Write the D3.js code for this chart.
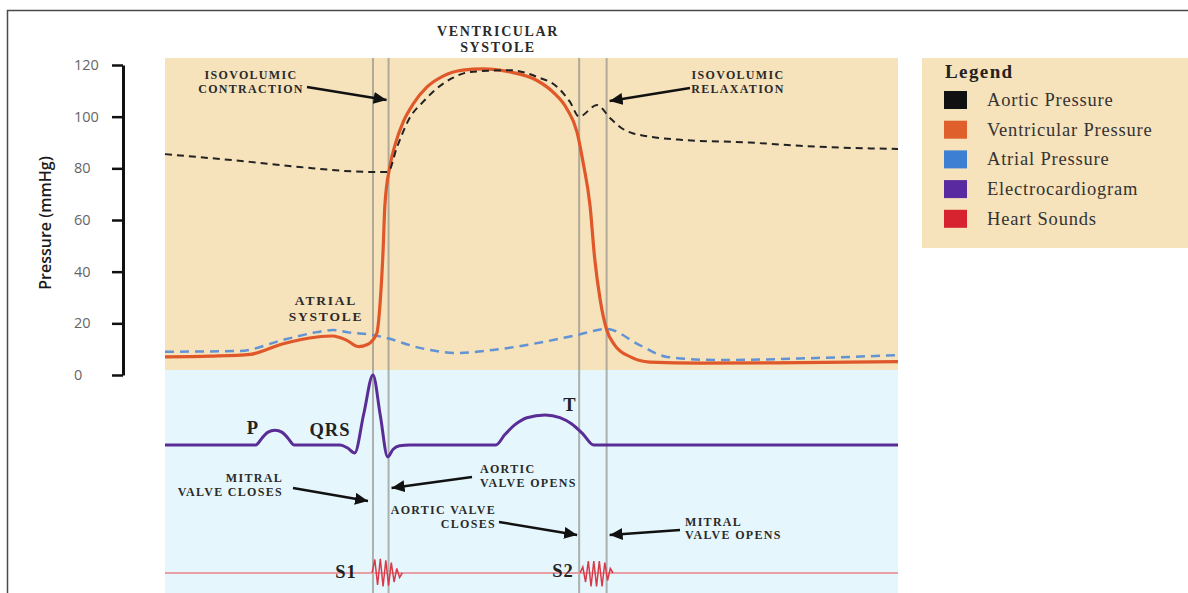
<!DOCTYPE html>
<html>
<head>
<meta charset="utf-8">
<script src="https://cdn.jsdelivr.net/npm/d3@7"></script>
<style>
  html, body { margin: 0; padding: 0; background: #fff; }
  svg { display: block; }
</style>
</head>
<body>
<svg id="chart" width="1188" height="593"></svg>
<script>
// ---------------- DATA (time in ms over one cardiac cycle) ----------------
const yTicks = [0, 20, 40, 60, 80, 100, 120];

// [time ms, pressure mmHg]
const aorticPressure = [
  [0, 85.5], [93, 82.5], [147, 80.5], [227, 78.6], [243.4, 78.6], [253, 88],
  [267, 99.5], [281.6, 105.7], [297, 111], [314, 115], [333, 117.3], [376.5, 118],
  [406, 115.4], [428, 111.5], [442, 105.7], [452, 100], [471.5, 104.5],
  [485.7, 99.5], [496.6, 96], [511, 93.5], [565, 91], [638, 90], [693, 88.7], [800, 87.5]
];
const ventricularPressure = [
  [0, 7], [50, 7.3], [93, 8], [128, 12], [166, 14.7], [183, 15.1], [198, 13.5],
  [211, 11], [221, 11.8], [231, 16], [235, 29], [238, 48], [240, 65.8],
  [245.6, 81], [251, 89], [260, 98], [271, 105], [286, 111.5], [303.5, 115.7],
  [325, 118], [347, 118.5], [376.5, 117.3], [406, 114], [423.5, 109.5],
  [438.7, 103], [449.7, 94], [456.2, 82.5], [463.8, 65.8], [469, 45], [475, 29],
  [482, 17.5], [491, 11.5], [508, 7], [529, 5], [584, 4.6], [693, 4.8], [800, 5.2]
];
const atrialPressure = [
  [0, 9], [82, 9.3], [128, 13.5], [166, 16.6], [183, 17.4], [202, 16.4],
  [227, 15.5], [242, 14.3], [278, 10.5], [319, 8.5], [358, 9.7], [413, 12.8],
  [450, 15.5], [482, 17.8], [518, 11.6], [548, 7], [603, 5.8], [712, 6.6],
  [800, 7.7]
];
// [time ms, ECG amplitude (R peak = 1)]
const ecg = [
  [0, 0], [99, 0], [106, 0.1], [112, 0.18], [120, 0.21], [128, 0.18], [134, 0.1],
  [141, 0], [191, 0], [199, -0.04], [207, -0.114], [217, 0.45], [227, 1.0],
  [235, 0.42], [243, -0.17], [249, -0.06], [256, -0.01], [267, 0], [361, 0],
  [371, 0.15], [382, 0.29], [395, 0.39], [415, 0.43], [431, 0.39], [444, 0.3],
  [456, 0.16], [468, 0], [800, 0]
];
// heart sounds [time ms, amplitude]
const heartBaseline = [[0, 0], [800, 0]];
const soundS1 = [
  [226, 0], [229, 0.9], [232, -0.8], [235, 0.95], [238, -0.9], [241, 0.85],
  [244, -0.85], [247, 0.7], [250, -0.6], [253, 0.3], [256, -0.3], [259, 0]
];
const soundS2 = [
  [453, 0], [456, 0.4], [459, -0.6], [462, 0.8], [465, -0.9], [468, 0.8],
  [471, -0.9], [474, 0.8], [477, -0.9], [480, 0.7], [483, -0.5], [486, 0.3], [489, 0]
];
// valve events: mitral closes, aortic opens, aortic closes, mitral opens
const valveEvents = [227, 244, 452, 482];

const legendLabels = ["Aortic Pressure", "Ventricular Pressure", "Atrial Pressure", "Electrocardiogram", "Heart Sounds"];
const legendColors = ["#111111", "#e0602c", "#3d7fd2", "#5a2aa0", "#d6232f"];

// ---------------- DRAWING ----------------
const svg = d3.select("#chart");
const serif = "'Liberation Serif', 'Times New Roman', serif";

const x = d3.scaleLinear().domain([0, 800]).range([165, 898]);
const yP = d3.scaleLinear().domain([0, 120]).range([375, 65]);
const yE = d3.scaleLinear().domain([0, 1]).range([445, 375]);
const yS = d3.scaleLinear().domain([-1, 1]).range([588, 558]);

// frame
svg.append("path").attr("d", "M7.5,593 V10.5 H1188")
  .attr("fill", "none").attr("stroke", "#4a4a4a").attr("stroke-width", 1.5);

// panels
svg.append("rect").attr("x", x(0)).attr("y", 58).attr("width", x(800) - x(0)).attr("height", 312)
  .attr("fill", "#f6e2bb");
svg.append("rect").attr("x", x(0)).attr("y", 370).attr("width", x(800) - x(0)).attr("height", 223)
  .attr("fill", "#e5f6fc");

// valve event lines
svg.append("g").selectAll("line").data(valveEvents).join("line")
  .attr("x1", d => x(d)).attr("x2", d => x(d)).attr("y1", 58).attr("y2", 593)
  .attr("stroke", "#8c8c86").attr("stroke-opacity", 0.65).attr("stroke-width", 2);

// y axis
const axis = d3.axisLeft(yP).tickValues(yTicks).tickSize(11).tickSizeOuter(0);
const gAx = svg.append("g").attr("transform", "translate(123,0)").call(axis);
gAx.select(".domain").attr("stroke", "#111").attr("stroke-width", 3);
gAx.selectAll(".tick line").attr("stroke", "#111").attr("stroke-width", 2.5);
gAx.selectAll(".tick text").attr("x", -49).attr("text-anchor", "start")
  .attr("font-family", "'Open Sans', sans-serif").attr("font-size", 14.5).attr("fill", "#666");

svg.append("text").attr("transform", "translate(51,223) rotate(-90)")
  .attr("text-anchor", "middle").attr("font-family", "'Open Sans', sans-serif")
  .attr("font-size", 16).attr("font-weight", 600).attr("fill", "#1a1a1a")
  .text("Pressure (mmHg)");

const lineGen = (ys, curve) => d3.line().x(d => x(d[0])).y(d => ys(d[1])).curve(curve);

// atrial
svg.append("path").datum(atrialPressure)
  .attr("d", lineGen(yP, d3.curveMonotoneX))
  .attr("fill", "none").attr("stroke", "#6293d4").attr("stroke-width", 2.5)
  .attr("stroke-dasharray", "9,6");
// ventricular
svg.append("path").datum(ventricularPressure)
  .attr("d", lineGen(yP, d3.curveMonotoneX))
  .attr("fill", "none").attr("stroke", "#e0572a").attr("stroke-width", 3.2);
// aortic
svg.append("path").datum(aorticPressure)
  .attr("d", lineGen(yP, d3.curveMonotoneX))
  .attr("fill", "none").attr("stroke", "#222").attr("stroke-width", 2)
  .attr("stroke-dasharray", "7,5");
// ECG
svg.append("path").datum(ecg)
  .attr("d", lineGen(yE, d3.curveMonotoneX))
  .attr("fill", "none").attr("stroke", "#5a2d96").attr("stroke-width", 3)
  .attr("stroke-linejoin", "round");
// heart sounds
svg.append("path").datum(heartBaseline)
  .attr("d", lineGen(yS, d3.curveLinear))
  .attr("fill", "none").attr("stroke", "#e8a0a6").attr("stroke-width", 2);
[soundS1, soundS2].forEach(s => {
  svg.append("path").datum(s)
    .attr("d", lineGen(yS, d3.curveLinear))
    .attr("fill", "none").attr("stroke", "#d83a48").attr("stroke-width", 1.5);
});

// arrow marker
svg.append("defs").append("marker").attr("id", "ah")
  .attr("markerUnits", "userSpaceOnUse").attr("markerWidth", 14).attr("markerHeight", 12)
  .attr("refX", 13).attr("refY", 6).attr("orient", "auto")
  .append("path").attr("d", "M0,0 L13,6 L0,12 Z").attr("fill", "#111");

// annotations
const notes = [
  { lines: ["VENTRICULAR", "SYSTOLE"], x: 498, y: 36, anchor: "middle", fs: 14, ls: 1.6, gap: 16 },
  { lines: ["ISOVOLUMIC", "CONTRACTION"], x: 251, y: 79, anchor: "middle", fs: 12, ls: 1.3, gap: 14,
    arrow: [307, 87, x(valveEvents[1]) - 2, 100] },
  { lines: ["ISOVOLUMIC", "RELAXATION"], x: 738, y: 79, anchor: "middle", fs: 12, ls: 1.3, gap: 14,
    arrow: [690, 88, x(valveEvents[3]) + 3, 101] },
  { lines: ["ATRIAL", "SYSTOLE"], x: 326, y: 305, anchor: "middle", fs: 13.5, ls: 1.8, gap: 16 },
  { lines: ["MITRAL", "VALVE CLOSES"], x: 283, y: 482, anchor: "end", fs: 12, ls: 1.3, gap: 14,
    arrow: [293, 488, x(valveEvents[0]) - 5, 501] },
  { lines: ["AORTIC", "VALVE OPENS"], x: 480, y: 473, anchor: "start", fs: 12, ls: 1.3, gap: 14,
    arrow: [472, 477, x(valveEvents[1]) + 3, 488] },
  { lines: ["AORTIC VALVE", "CLOSES"], x: 496, y: 514, anchor: "end", fs: 12, ls: 1.3, gap: 14,
    arrow: [499, 522, x(valveEvents[2]) - 2, 535] },
  { lines: ["MITRAL", "VALVE OPENS"], x: 685, y: 526, anchor: "start", fs: 12, ls: 1.3, gap: 13,
    arrow: [680, 530, x(valveEvents[3]) + 3, 535] }
];
notes.forEach(n => {
  const t = svg.append("text").attr("text-anchor", n.anchor)
    .attr("font-family", serif).attr("font-weight", "bold").attr("font-size", n.fs)
    .attr("fill", "#2a2a2a").attr("letter-spacing", n.ls);
  n.lines.forEach((l, i) => t.append("tspan").attr("x", n.x).attr("y", n.y + i * n.gap).text(l));
  if (n.arrow) {
    svg.append("line").attr("x1", n.arrow[0]).attr("y1", n.arrow[1])
      .attr("x2", n.arrow[2]).attr("y2", n.arrow[3])
      .attr("stroke", "#111").attr("stroke-width", 2.5).attr("marker-end", "url(#ah)");
  }
});

// wave labels
const waveLabels = [
  { t: "P", x: 253, y: 434 }, { t: "QRS", x: 330, y: 436 }, { t: "T", x: 570, y: 411 },
  { t: "S1", x: 346, y: 578 }, { t: "S2", x: 563, y: 577 }
];
svg.append("g").selectAll("text").data(waveLabels).join("text")
  .attr("x", d => d.x).attr("y", d => d.y).attr("text-anchor", "middle")
  .attr("font-family", serif).attr("font-weight", "bold").attr("font-size", 18.5)
  .attr("letter-spacing", 1).attr("fill", "#222").text(d => d.t);

// legend
svg.append("rect").attr("x", 922).attr("y", 58).attr("width", 266).attr("height", 190)
  .attr("fill", "#f6e2bb");
svg.append("text").attr("x", 945).attr("y", 78).attr("font-family", serif)
  .attr("font-weight", "bold").attr("font-size", 19).attr("letter-spacing", 1.4)
  .attr("fill", "#222").text("Legend");
const lg = svg.append("g").selectAll("g").data(legendLabels).join("g")
  .attr("transform", (d, i) => `translate(0,${100 + i * 29.7})`);
lg.append("rect").attr("x", 944).attr("y", -9).attr("width", 23).attr("height", 18)
  .attr("fill", (d, i) => legendColors[i]);
lg.append("text").attr("x", 987).attr("y", 6).attr("font-family", serif)
  .attr("font-size", 18.5).attr("letter-spacing", 0.8).attr("fill", "#333").text(d => d);
</script>
</body>
</html>
